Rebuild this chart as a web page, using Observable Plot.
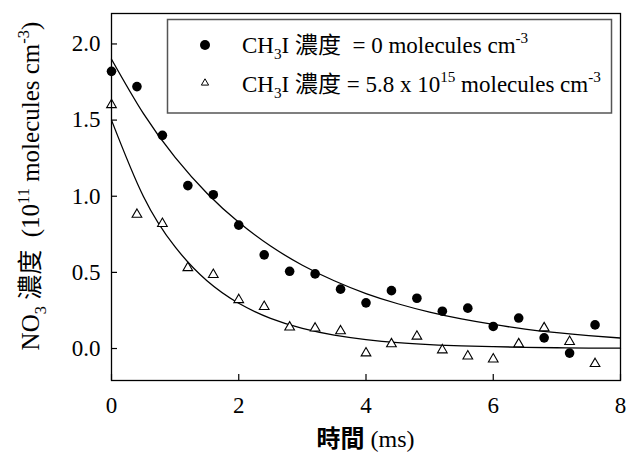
<!DOCTYPE html>
<html>
<head>
<meta charset="utf-8">
<script src="https://cdn.jsdelivr.net/npm/d3@7"></script>
<script src="https://cdn.jsdelivr.net/npm/@observablehq/plot@0.6"></script>
<style>
  html, body { margin: 0; padding: 0; background: #fff; }
  #chart svg { display: block; }
</style>
</head>
<body>
<div id="chart"></div>
<script>
// ---- data ----
const times = [0, 0.4, 0.8, 1.2, 1.6, 2.0, 2.4, 2.8, 3.2, 3.6, 4.0, 4.4, 4.8, 5.2, 5.6, 6.0, 6.4, 6.8, 7.2, 7.6];
const conc0  = [1.82, 1.72, 1.40, 1.07, 1.01, 0.81, 0.615, 0.507, 0.49, 0.39, 0.30, 0.38, 0.33, 0.245, 0.265, 0.145, 0.20, 0.07, -0.03, 0.155];
const conc58 = [1.60, 0.88, 0.82, 0.53, 0.485, 0.32, 0.275, 0.14, 0.133, 0.115, -0.03, 0.03, 0.08, -0.01, -0.05, -0.07, 0.03, 0.135, 0.045, -0.10];

// fitted curves
const fitX    = [0, 0.5, 1, 1.5, 2, 2.5, 3, 3.5, 4, 4.5, 5, 5.5, 6, 6.5, 7, 7.5, 8];
const fit0    = [1.900, 1.544, 1.255, 1.020, 0.829, 0.673, 0.547, 0.445, 0.361, 0.294, 0.239, 0.194, 0.158, 0.128, 0.104, 0.085, 0.069];
const fit58   = [1.500, 1.000, 0.667, 0.445, 0.297, 0.198, 0.132, 0.088, 0.059, 0.039, 0.026, 0.017, 0.012, 0.008, 0.005, 0.003, 0.002];

const xTicks = [0, 2, 4, 6, 8];
const yTicks = [0.0, 0.5, 1.0, 1.5, 2.0];

const seriesLabels = ["= 0 molecules cm", "= 5.8 x 10"];

// ---- tables ----
const pts0  = times.map((t, i) => ({t, c: conc0[i]}));
const pts58 = times.map((t, i) => ({t, c: conc58[i]}));
const line0  = fitX.map((t, i) => ({t, c: fit0[i]}));
const line58 = fitX.map((t, i) => ({t, c: fit58[i]}));

const W = 626, H = 459;
const mT = 13, mB = 79, mL = 111, mR = 6;
const plotH = H - mT - mB, plotW = W - mL - mR;
const TICK = 6;

const chart = Plot.plot({
  width: W,
  height: H,
  marginTop: mT,
  marginBottom: mB,
  marginLeft: mL,
  marginRight: mR,
  style: {fontFamily: "'Liberation Serif', 'Noto Sans CJK TC', serif", fontSize: "23px", color: "black", background: "white"},
  x: {domain: [0, 8], ticks: xTicks, tickSize: 0, tickPadding: 16, tickFormat: d => String(d), label: null},
  y: {domain: [-0.21, 2.2], ticks: yTicks, tickSize: 0, tickPadding: 11, tickFormat: d3.format(".1f"), label: null},
  marks: [
    Plot.tickX(xTicks, {x: d => d, insetTop: plotH - TICK, stroke: "black", strokeWidth: 1.2}),
    Plot.tickY(yTicks, {y: d => d, insetRight: plotW - TICK, stroke: "black", strokeWidth: 1.2}),
    Plot.line(line0,  {x: "t", y: "c", curve: "natural", stroke: "black", strokeWidth: 1.3}),
    Plot.line(line58, {x: "t", y: "c", curve: "natural", stroke: "black", strokeWidth: 1.3}),
    Plot.dot(pts0,  {x: "t", y: "c", r: 4.8, fill: "black", stroke: "none"}),
    Plot.dot(pts58, {x: "t", y: "c", r: 3.6, symbol: "triangle", fill: "white", stroke: "black", strokeWidth: 1.1}),
    Plot.frame({stroke: "black", strokeWidth: 1.3})
  ]
});
document.getElementById("chart").appendChild(chart);

// ---- rich text helpers (sub/superscripts) ----
const svg = d3.select(chart);
function rich(sel, parts, F) {
  let shift = 0;
  for (const [txt, kind] of parts) {
    const target = kind === "sub" ? 0.28 * F : kind === "sup" ? -0.42 * F : 0;
    const tsp = sel.append("tspan").text(txt).attr("dy", target - shift);
    if (kind) tsp.attr("font-size", 0.66 * F);
    shift = target;
  }
}

// y-axis title
const YF = 25;
const yl = svg.append("text")
  .attr("transform", "translate(39,186) rotate(-90)")
  .attr("text-anchor", "middle")
  .attr("font-size", YF)
  .attr("fill", "black");
rich(yl, [["NO", ""], ["3", "sub"], [" 濃度  (10", ""], ["11", "sup"], [" molecules cm", ""], ["-3", "sup"], [")", ""]], YF);

// x-axis title
const F = 24;
svg.append("text")
  .attr("x", mL + plotW / 2)
  .attr("y", 447)
  .attr("text-anchor", "middle")
  .attr("font-size", F)
  .attr("fill", "black")
  .call(s => {
    s.append("tspan").text("時間").attr("font-family", "'Noto Sans CJK TC', sans-serif").attr("font-weight", "bold");
    s.append("tspan").text(" (ms)");
  });

// legend
const lg = svg.append("g").attr("text-anchor", "start");
lg.append("rect").attr("x", 167.5).attr("y", 19.5).attr("width", 444).attr("height", 93.5)
  .attr("fill", "white").attr("stroke", "#555").attr("stroke-width", 1.5);
lg.append("circle").attr("cx", 205).attr("cy", 45).attr("r", 5).attr("fill", "black");
lg.append("path").attr("transform", "translate(205,83)")
  .attr("d", d3.symbol(d3.symbolTriangle, Math.PI * 2.7 * 2.7)())
  .attr("fill", "white").attr("stroke", "black").attr("stroke-width", 1);
const LF = 23;
const t1 = lg.append("text").attr("x", 242).attr("y", 53).attr("text-anchor", "start").attr("font-size", LF).attr("fill", "black");
rich(t1, [["CH", ""], ["3", "sub"], ["I 濃度  " + seriesLabels[0], ""], ["-3", "sup"]], LF);
const t2 = lg.append("text").attr("x", 242).attr("y", 92).attr("text-anchor", "start").attr("font-size", LF).attr("fill", "black");
rich(t2, [["CH", ""], ["3", "sub"], ["I 濃度 " + seriesLabels[1], ""], ["15", "sup"], [" molecules cm", ""], ["-3", "sup"]], LF);
</script>
</body>
</html>
